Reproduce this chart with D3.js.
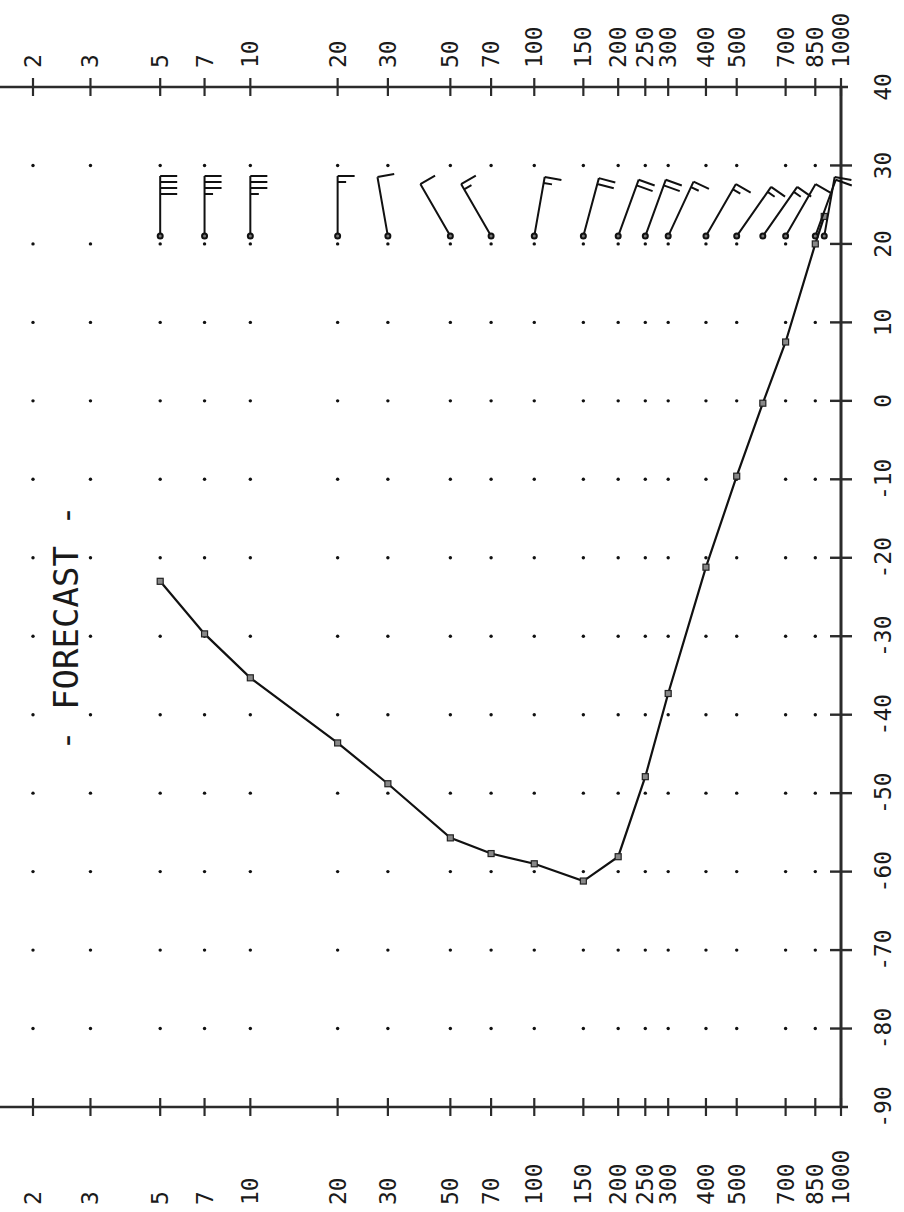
<!DOCTYPE html>
<html>
<head>
<meta charset="utf-8">
<script src="https://cdn.jsdelivr.net/npm/d3@7"></script>
<style>
  html, body { margin: 0; padding: 0; background: #fff; }
  svg { display: block; }
</style>
</head>
<body>
<svg id="chart" width="904" height="1212"></svg>
<script>
// axis ticks
const pressureTicks = [2, 3, 5, 7, 10, 20, 30, 50, 70, 100, 150, 200, 250, 300, 400, 500, 700, 850, 1000];
const tempTicks = [-90, -80, -70, -60, -50, -40, -30, -20, -10, 0, 10, 20, 30, 40];

// forecast temperature profile
const tempPressure = [5, 7, 10, 20, 30, 50, 70, 100, 150, 200, 250, 300, 400, 500, 600, 700, 850, 900];
const tempValues = [-23, -29.7, -35.3, -43.6, -48.8, -55.7, -57.7, -59, -61.2, -58.1, -47.9, -37.3, -21.2, -9.6, -0.3, 7.5, 20, 23.5];

// forecast winds (direction deg, speed kt)
const windPressure = [5, 7, 10, 20, 30, 50, 70, 100, 150, 200, 250, 300, 400, 500, 600, 700, 850, 900];
const windDir = [90, 90, 90, 90, 80, 60, 60, 100, 105, 110, 110, 115, 120, 125, 125, 120, 110, 100];
const windSpeed = [40, 35, 35, 15, 10, 10, 15, 15, 20, 20, 20, 15, 15, 15, 15, 10, 10, 10];

const svg = d3.select('#chart');
const font = 'DejaVu Sans Mono, monospace';

// pressure axis follows standard-atmosphere height (km)
function isaHeight(p) {
    if (p >= 226.32) return 44.3308 * (1 - Math.pow(p / 1013.25, 0.190263));
    if (p >= 54.749) return 11 + 6.3416 * Math.log(226.32 / p);
    if (p >= 8.6802) return 20 + 216.65 * (Math.pow(p / 54.749, -0.029271) - 1);
    return 32 + 81.661 * (Math.pow(p / 8.6802, -0.081960) - 1);
}

const x = d3.scaleLinear().domain([isaHeight(2), isaHeight(1000)]).range([33, 841]);
const px = p => x(isaHeight(p));
const y = d3.scaleLinear().domain([-90, 40]).range([1107, 87]);

const axisColor = '#2b2b2b';

// dotted grid
const gridRows = tempTicks.filter(t => t > -90 && t < 40);
const gridCols = pressureTicks.filter(p => p < 1000);
const dots = [];
gridRows.forEach(t => gridCols.forEach(p => dots.push({ p, t })));
svg.append('g').selectAll('circle').data(dots).enter().append('circle')
    .attr('cx', d => px(d.p))
    .attr('cy', d => y(d.t))
    .attr('r', 1.7)
    .attr('fill', '#111');

// top and bottom pressure lines, right temperature axis
const frame = svg.append('g').attr('stroke', axisColor).attr('fill', 'none');
[40, -90].forEach(t => {
    frame.append('line')
        .attr('x1', 0).attr('x2', px(1000) + 7)
        .attr('y1', y(t)).attr('y2', y(t))
        .attr('stroke-width', 2.6);
    frame.selectAll(null).data(pressureTicks).enter().append('line')
        .attr('x1', d => px(d)).attr('x2', d => px(d))
        .attr('y1', y(t) - 9).attr('y2', y(t) + 9)
        .attr('stroke-width', 2.2);
});
frame.append('line')
    .attr('x1', px(1000)).attr('x2', px(1000))
    .attr('y1', y(40)).attr('y2', y(-90))
    .attr('stroke-width', 3);
frame.selectAll(null).data(tempTicks.filter(t => t > -90 && t < 40)).enter().append('line')
    .attr('x1', px(1000) - 11).attr('x2', px(1000) + 11)
    .attr('y1', d => y(d)).attr('y2', d => y(d))
    .attr('stroke-width', 2.4);

// pressure labels top and bottom
const labels = svg.append('g')
    .attr('font-family', font)
    .attr('font-size', 23)
    .attr('fill', '#1a1a1a');
[68, 1205].forEach(yy => {
    labels.selectAll(null).data(pressureTicks).enter().append('text')
        .attr('transform', d => `translate(${px(d) + 8},${yy}) rotate(-90)`)
        .attr('text-anchor', 'start')
        .text(d => d);
});

// temperature labels on the right
labels.selectAll(null).data(tempTicks).enter().append('text')
    .attr('transform', d => `translate(${px(1000) + 50},${y(d)}) rotate(-90)`)
    .attr('text-anchor', 'middle')
    .text(d => d);

// temperature curve
const profile = tempPressure.map((p, i) => ({ p, t: tempValues[i] }));
const line = d3.line().x(d => px(d.p)).y(d => y(d.t));
svg.append('path')
    .datum(profile)
    .attr('d', line)
    .attr('fill', 'none')
    .attr('stroke', '#111')
    .attr('stroke-width', 2.2);
svg.append('g').selectAll('rect').data(profile).enter().append('rect')
    .attr('x', d => px(d.p) - 3)
    .attr('y', d => y(d.t) - 3)
    .attr('width', 6).attr('height', 6)
    .attr('fill', '#888')
    .attr('stroke', '#222')
    .attr('stroke-width', 1.2);

// wind barbs (page is turned, so the staff is rotated with it)
const barbT = 21;
const barbs = svg.append('g')
    .attr('fill', 'none')
    .attr('stroke', '#111')
    .attr('stroke-width', 2);
windPressure.forEach((p, i) => {
    const bx = px(p), by = y(barbT);
    const a = windDir[i] * Math.PI / 180;
    const sx = -Math.cos(a), sy = -Math.sin(a);
    const fx = -sy, fy = sx;
    const L = 60, F = 17, step = 6;
    const tx = bx + sx * L, ty = by + sy * L;
    let d = `M${bx},${by}L${tx},${ty}`;
    let rem = Math.round(windSpeed[i] / 5) * 5;
    let pos = 0;
    while (rem >= 10) {
        const ox = tx - sx * pos, oy = ty - sy * pos;
        d += `M${ox},${oy}l${fx * F},${fy * F}`;
        pos += step;
        rem -= 10;
    }
    if (rem >= 5) {
        if (pos === 0) pos = step;
        const ox = tx - sx * pos, oy = ty - sy * pos;
        d += `M${ox},${oy}l${fx * F / 2},${fy * F / 2}`;
    }
    barbs.append('path').attr('d', d);
    barbs.append('circle').attr('cx', bx).attr('cy', by).attr('r', 2.5).attr('fill', '#777');
});

// title
svg.append('text')
    .attr('transform', `translate(78,628) rotate(-90)`)
    .attr('text-anchor', 'middle')
    .attr('font-family', font)
    .attr('font-size', 34)
    .attr('fill', '#1a1a1a')
    .text('- FORECAST -');
</script>
</body>
</html>
